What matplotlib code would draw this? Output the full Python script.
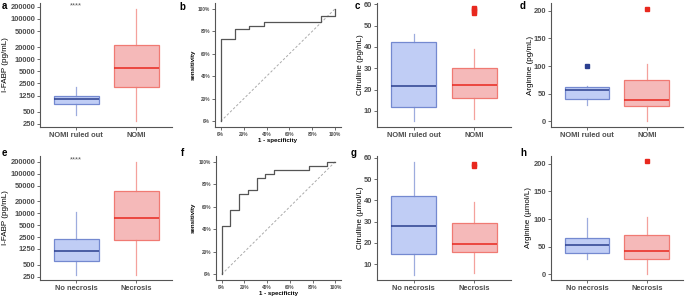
import numpy as np
import matplotlib
matplotlib.use('Agg')
import matplotlib.pyplot as plt

plt.rcParams['font.family'] = ['Liberation Sans', 'DejaVu Sans']

# box stats: [whislo, q1, med, q3, whishi]
groupsTop = ['NOMI ruled out', 'NOMI']
groupsBottom = ['No necrosis', 'Necrosis']

fabpTop = [[405, 750, 1050, 1220, 2070], [292, 1990, 5940, 22800, 177000]]
fabpTopOut = [[], []]
fabpBottom = [[276, 637, 1143, 2170, 10700], [276, 2130, 7410, 35900, 200000]]
fabpBottomOut = [[], []]

citTop = [[5.0, 12.0, 21.6, 42.3, 46.0], [6.1, 16.0, 22.1, 30.1, 39.0]]
citTopOut = [[], [56.0, 56.8, 57.6, 58.2]]
citBottom = [[5.0, 15.0, 28.1, 41.9, 58.0], [6.1, 15.8, 19.6, 29.2, 39.1]]
citBottomOut = [[], [56.2, 57.0]]

argTop = [[30.3, 41.2, 56.4, 61.2, 63.6], [0.0, 28.5, 39.4, 75.2, 103.0]]
argTopOut = [[100.0], [204.0]]
argBottom = [[28.5, 38.8, 52.7, 64.8, 101.2], [0.0, 28.5, 41.8, 71.5, 103.6]]
argBottomOut = [[], [205.0]]

# ROC curve corner points
rocTopFpr = [0, 0, 0.125, 0.125, 0.25, 0.25, 0.375, 0.375, 0.875, 0.875, 1.0, 1.0]
rocTopTpr = [0, 0.727, 0.727, 0.818, 0.818, 0.848, 0.848, 0.879, 0.879, 0.939, 0.939, 1.0]
rocBottomFpr = [0, 0, 0.077, 0.077, 0.154, 0.154, 0.231, 0.231, 0.308, 0.308, 0.385, 0.385,
                0.462, 0.462, 0.769, 0.769, 0.923, 0.923, 1.0]
rocBottomTpr = [0, 0.429, 0.429, 0.571, 0.571, 0.714, 0.714, 0.75, 0.75, 0.857, 0.857, 0.893,
                0.893, 0.929, 0.929, 0.964, 0.964, 1.0, 1.0]

fabpTicks = [250, 500, 1250, 2500, 5000, 10000, 20000, 50000, 100000, 200000]

W, H = 685, 298
fig = plt.figure(figsize=(W / 100, H / 100), dpi=100)

fillCols = ['#c0cdf5', '#f5b9b9']
edgeCols = ['#7489d0', '#f07a73']
medCols = ['#2b3f8f', '#e8281e']
axisCol = '#555555'
tickCol = '#4d4d4d'


def addAx(x0, y0, x1, y1):
  ax = fig.add_axes([x0 / W, 1 - y1 / H, (x1 - x0) / W, (y1 - y0) / H])
  ax.pxLeft = x0
  ax.pxWidth = x1 - x0
  return ax


def placeYlabel(ax, px):
  # put the y title centre at a given pixel column
  ax.yaxis.label.set_va('center')
  ax.yaxis.set_label_coords((px - ax.pxLeft) / ax.pxWidth, 0.5)


def styleAx(ax, size=5.4):
  for s in ['top', 'right']:
    ax.spines[s].set_visible(False)
  for s in ['left', 'bottom']:
    ax.spines[s].set_color(axisCol)
    ax.spines[s].set_linewidth(0.8)
  ax.tick_params(length=2, width=0.6, color=axisCol, labelsize=size,
                 labelcolor=tickCol, pad=1.5)
  for lab in ax.get_xticklabels() + ax.get_yticklabels():
    lab.set_fontweight('bold')


def boxPanel(ax, stats, outliers, labels, ylabel, logScale=False, stars=None):
  for i in range(2):
    lo, q1, med, q3, hi = stats[i]
    d = {'whislo': lo, 'q1': q1, 'med': med, 'q3': q3, 'whishi': hi,
         'fliers': outliers[i]}
    ax.bxp([d], positions=[i + 1], widths=0.75, patch_artist=True,
           showcaps=False,
           boxprops=dict(facecolor=fillCols[i], edgecolor=edgeCols[i], linewidth=0.9),
           whiskerprops=dict(color=edgeCols[i], linewidth=0.9, alpha=0.7),
           medianprops=dict(color=medCols[i], linewidth=1.1),
           flierprops=dict(marker='s', markersize=2.2, markerfacecolor=medCols[i],
                           markeredgecolor=medCols[i]))
  ax.set_xlim(0.4, 2.6)
  ax.set_xticks([1, 2])
  ax.set_xticklabels(labels)
  if logScale:
    ax.set_yscale('log')
    ax.set_yticks(fabpTicks)
    ax.set_yticklabels([str(t) for t in fabpTicks])
    ax.minorticks_off()
  ax.set_ylabel(ylabel, fontsize=5.8)
  if stars:
    ax.text(1, stars, '****', ha='center', va='center', fontsize=5.5, color='#555555')
  styleAx(ax)


def rocPanel(ax, fpr, tpr):
  ax.plot([0, 1], [0, 1], color='#aaaaaa', linestyle=(0, (2.5, 2)), linewidth=0.7)
  ax.plot(fpr, tpr, color='#555555', linewidth=0.9)
  ax.set_xlim(-0.05, 1.05)
  ax.set_ylim(-0.05, 1.05)
  ticks = np.arange(0, 1.01, 0.2)
  tickLabels = [f'{int(round(t * 100))}%' for t in ticks]
  ax.set_xticks(ticks)
  ax.set_xticklabels(tickLabels)
  ax.set_yticks(ticks)
  ax.set_yticklabels(tickLabels)
  ax.set_xlabel('1 - specificity', fontsize=4.4, fontweight='bold', labelpad=1)
  ax.set_ylabel('sensitivity', fontsize=4.4, fontweight='bold')
  styleAx(ax, size=3.4)


# top row
axA = addAx(40, 3, 172, 127)
boxPanel(axA, fabpTop, fabpTopOut, groupsTop, 'I-FABP (pg/mL)', logScale=True, stars=215000)
axA.set_ylim(206, 250000)
placeYlabel(axA, 6)

axB = addAx(215, 3, 341, 127)
rocPanel(axB, rocTopFpr, rocTopTpr)
placeYlabel(axB, 193)

axC = addAx(377, 3, 511, 127)
boxPanel(axC, citTop, citTopOut, groupsTop, 'Citrulline (pg/mL)')
axC.set_ylim(2.4, 60.6)
axC.set_yticks([10, 20, 30, 40, 50, 60])
placeYlabel(axC, 361)

axD = addAx(551, 3, 683, 127)
boxPanel(axD, argTop, argTopOut, groupsTop, 'Arginine (pg/mL)')
axD.set_ylim(-10.3, 214)
axD.set_yticks([0, 50, 100, 150, 200])
placeYlabel(axD, 530)

# bottom row
axE = addAx(40, 156, 172, 280)
boxPanel(axE, fabpBottom, fabpBottomOut, groupsBottom, 'I-FABP (pg/mL)', logScale=True, stars=225000)
axE.set_ylim(206, 278000)
placeYlabel(axE, 6)

axF = addAx(216, 156, 341, 280)
rocPanel(axF, rocBottomFpr, rocBottomTpr)
placeYlabel(axF, 193)

axG = addAx(377, 156, 511, 280)
boxPanel(axG, citBottom, citBottomOut, groupsBottom, 'Citrulline (\u00b5mol/L)')
axG.set_ylim(2.6, 60.8)
axG.set_yticks([10, 20, 30, 40, 50, 60])
placeYlabel(axG, 361)

axH = addAx(551, 156, 683, 280)
boxPanel(axH, argBottom, argBottomOut, groupsBottom, 'Arginine (\u00b5mol/L)')
axH.set_ylim(-10.3, 214)
axH.set_yticks([0, 50, 100, 150, 200])
placeYlabel(axH, 529)

# panel letters
letters = [('a', 4, 6), ('b', 182, 7), ('c', 357, 6), ('d', 523, 6),
           ('e', 4, 153), ('f', 183, 153), ('g', 354, 153), ('h', 523, 153)]
for txt, px, py in letters:
  fig.text(px / W, 1 - py / H, txt, fontsize=7, fontweight='bold', ha='center', va='center')

fig.savefig('out.png', dpi=100)
